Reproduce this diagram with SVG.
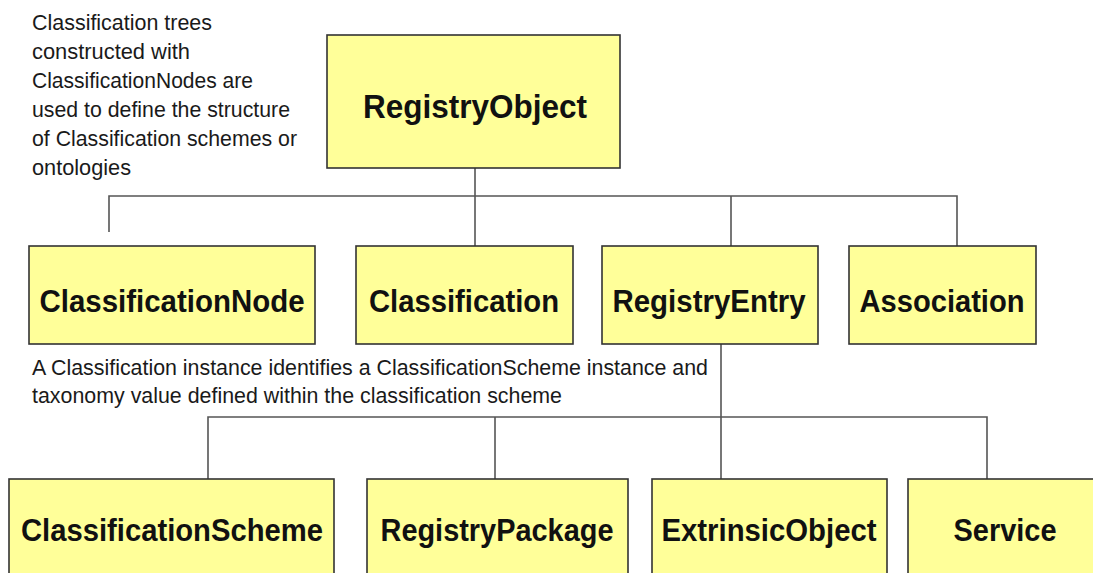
<svg xmlns="http://www.w3.org/2000/svg" width="1093" height="573" viewBox="0 0 1093 573">
<style>
.box{fill:#FFFF99;stroke:#333;stroke-width:1.6}
.lbl{font-family:"Liberation Sans",Arial,sans-serif;font-weight:bold;font-size:32px;fill:#111;text-anchor:middle}
.big{font-size:34px}
.note{font-family:"Liberation Sans",Arial,sans-serif;font-size:22px;fill:#1a1a1a}
.conn{fill:none;stroke:#555;stroke-width:1.6}
</style>
<rect width="1093" height="573" fill="#fff"/>
<g id="connectors">
<polyline class="conn" points="109,232 109,196 957,196 957,246"/>
<line class="conn" x1="475" y1="168" x2="475" y2="246"/>
<line class="conn" x1="731" y1="196" x2="731" y2="246"/>
<line class="conn" x1="721" y1="344" x2="721" y2="479"/>
<polyline class="conn" points="208,479 208,417 987,417 987,479"/>
<line class="conn" x1="495" y1="417" x2="495" y2="479"/>
</g>
<g id="note-trees">
<text class="note" x="32" y="30" textLength="180" lengthAdjust="spacingAndGlyphs">Classification trees</text>
<text class="note" x="32" y="59" textLength="158" lengthAdjust="spacingAndGlyphs">constructed with</text>
<text class="note" x="32" y="88" textLength="221" lengthAdjust="spacingAndGlyphs">ClassificationNodes are</text>
<text class="note" x="32" y="117" textLength="258" lengthAdjust="spacingAndGlyphs">used to define the structure</text>
<text class="note" x="32" y="146" textLength="265" lengthAdjust="spacingAndGlyphs">of Classification schemes or</text>
<text class="note" x="32" y="175" textLength="99" lengthAdjust="spacingAndGlyphs">ontologies</text>
</g>
<g id="note-classification">
<text class="note" x="32" y="375" textLength="676" lengthAdjust="spacingAndGlyphs">A Classification instance identifies a ClassificationScheme instance and</text>
<text class="note" x="32" y="403" textLength="530" lengthAdjust="spacingAndGlyphs">taxonomy value defined within the classification scheme</text>
</g>
<g id="RegistryObject">
<rect class="box" x="327" y="35" width="293" height="133"/>
<text class="lbl big" x="475" y="118" textLength="224" lengthAdjust="spacingAndGlyphs">RegistryObject</text>
</g>
<g id="ClassificationNode">
<rect class="box" x="29" y="246" width="286" height="98"/>
<text class="lbl" x="172" y="312" textLength="265" lengthAdjust="spacingAndGlyphs">ClassificationNode</text>
</g>
<g id="Classification">
<rect class="box" x="356" y="246" width="217" height="98"/>
<text class="lbl" x="464" y="312" textLength="190" lengthAdjust="spacingAndGlyphs">Classification</text>
</g>
<g id="RegistryEntry">
<rect class="box" x="602" y="246" width="216" height="98"/>
<text class="lbl" x="709" y="312" textLength="193" lengthAdjust="spacingAndGlyphs">RegistryEntry</text>
</g>
<g id="Association">
<rect class="box" x="849" y="246" width="187" height="98"/>
<text class="lbl" x="942" y="312" textLength="165" lengthAdjust="spacingAndGlyphs">Association</text>
</g>
<g id="ClassificationScheme">
<rect class="box" x="9" y="479" width="325" height="110"/>
<text class="lbl" x="172" y="541" textLength="302" lengthAdjust="spacingAndGlyphs">ClassificationScheme</text>
</g>
<g id="RegistryPackage">
<rect class="box" x="367" y="479" width="261" height="110"/>
<text class="lbl" x="497" y="541" textLength="233" lengthAdjust="spacingAndGlyphs">RegistryPackage</text>
</g>
<g id="ExtrinsicObject">
<rect class="box" x="652" y="479" width="235" height="110"/>
<text class="lbl" x="769" y="541" textLength="215" lengthAdjust="spacingAndGlyphs">ExtrinsicObject</text>
</g>
<g id="Service">
<rect class="box" x="908" y="479" width="200" height="110"/>
<text class="lbl" x="1005" y="541" textLength="103" lengthAdjust="spacingAndGlyphs">Service</text>
</g>
</svg>
